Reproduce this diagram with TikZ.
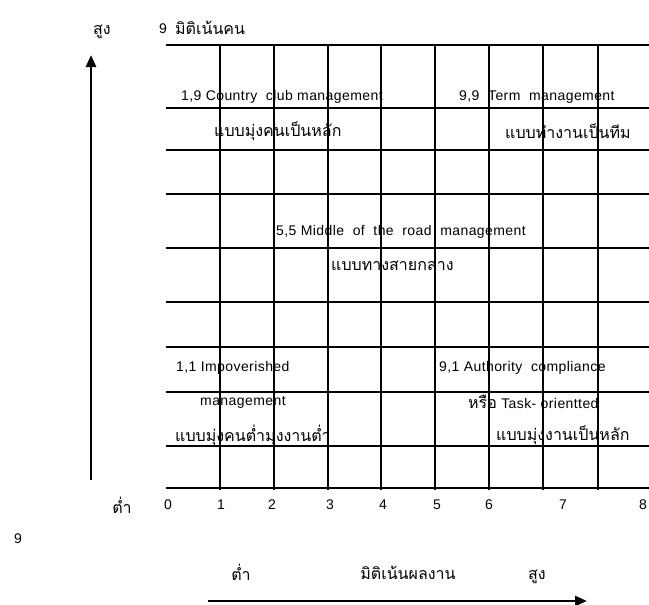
\documentclass[tikz,border=0pt]{standalone}
\usepackage{fontspec}
\setmainfont{Liberation Sans}[LetterSpace=3]
\newfontfamily\thaifont[Script=Thai]{Loma}
\usetikzlibrary{arrows.meta}

\begin{document}
\begin{tikzpicture}[
  x=1pt,y=-1pt,
  gridline/.style={line width=1.1pt,black},
  axisarrow/.style={-{Triangle[length=12pt,width=10pt]},line width=2.6pt},
  latin/.style={inner sep=0pt,font=\fontsize{14}{16}\selectfont},
  thai/.style={inner sep=0pt,font=\fontsize{16}{18}\selectfont\thaifont}
]
  \useasboundingbox (0,0) rectangle (649,605);
  % grid
  \foreach \y in {45,108,150,194,248,302,347,392,446,488}
    \draw[gridline] (166,\y) -- (649,\y);
  \foreach \x in {220,274,328,381,435,489,543,598}
    \draw[gridline] (\x,45) -- (\x,490);
  % people axis
  \node[thai] (high) at (102,32) {สูง};
  \node[latin] (nine) at (163,29) {9};
  \node[thai,anchor=west] (people) at (175,28) {มิติเน้นคน};
  \coordinate (ybase) at (91,480);
  \coordinate (ytip) at (91,55);
  \draw[axisarrow] (ybase) -- (ytip);
  % styles
  \node[latin,anchor=west] (club) at (181,97) {1,9 Country\ \ club management};
  \node[thai,anchor=west] (clubth) at (214,131) {แบบมุ่งคนเป็นหลัก};
  \node[latin,anchor=west] (team) at (459,97) {9,9\ \ Term\ \ management};
  \node[thai,anchor=west] (teamth) at (505,131) {แบบทำงานเป็นทีม};
  \node[latin,anchor=west] (middle) at (276,232) {5,5 Middle\ \ of\ \ the\ \ road\ \ management};
  \node[thai,anchor=west] (middleth) at (331,266) {แบบทางสายกลาง};
  \node[latin,anchor=west] (poor) at (176,368) {1,1 Impoverished};
  \node[latin,anchor=west] (poormgt) at (200,402) {management};
  \node[thai,anchor=west] (poorth) at (175,435) {แบบมุ่งคนต่ำมุ่งงานต่ำ};
  \node[latin,anchor=west] (task) at (439,368) {9,1 Authority\ \ compliance};
  \node[latin,anchor=west] (taskor) at (468,402) {{\thaifont\fontsize{16}{18}\selectfont หรือ} Task- orientted};
  \node[thai,anchor=west] (taskth) at (496,435) {แบบมุ่งงานเป็นหลัก};
  % work axis
  \node[thai] (low) at (122,505) {ต่ำ};
  \foreach \n/\x in {0/168,1/221,2/272,3/330,4/383,5/437,6/489,7/563,8/643}
    \node[latin] (tick\n) at (\x,505) {\n};
  \node[latin] (ninelow) at (18,539) {9};
  \node[thai] (lowwork) at (241,572) {ต่ำ};
  \node[thai] (work) at (408,573) {มิติเน้นผลงาน};
  \node[thai] (highwork) at (537,577) {สูง};
  \coordinate (xbase) at (208,601);
  \coordinate (xtip) at (587,601);
  \draw[axisarrow] (xbase) -- (xtip);
\end{tikzpicture}
\end{document}
